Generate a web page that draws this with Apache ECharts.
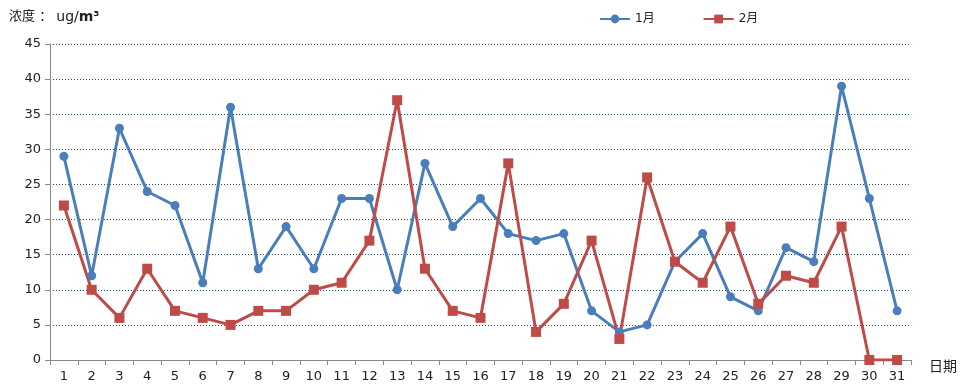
<!DOCTYPE html>
<html><head><meta charset="utf-8">
<script src="https://cdn.jsdelivr.net/npm/echarts@6/dist/echarts.min.js"></script>
<style>html,body{margin:0;padding:0;background:#fff}#c{width:972px;height:389px}</style>
</head><body><div id="c"></div>
<script>
const categories = ['1','2','3','4','5','6','7','8','9','10','11','12','13','14','15','16','17','18','19','20','21','22','23','24','25','26','27','28','29','30','31'];
const jan = [29,12,33,24,22,11,36,13,19,13,23,23,10,28,19,23,18,17,18,7,4,5,14,18,9,7,16,14,39,23,7];
const feb = [22,10,6,13,7,6,5,7,7,10,11,17,37,13,7,6,28,4,8,17,3,26,14,11,19,8,12,11,19,0,0];
const seriesNames = ['1月','2月'];
const font = '"DejaVu Sans","Noto Sans CJK SC",sans-serif';
const chart = echarts.init(document.getElementById('c'));
chart.setOption({
  animation:false,
  textStyle:{fontFamily:font},
  title:{
    text:'{a|浓度 ： }{b|ug/}{c|m³}',
    left:4, top:5,
    textStyle:{fontWeight:'normal',rich:{
      a:{fontSize:13,color:'#222',fontWeight:'normal',fontFamily:font},
      b:{fontSize:14,color:'#222',fontWeight:'normal',fontFamily:font},
      c:{fontSize:14,color:'#222',fontWeight:'bold',fontFamily:font}
    }}
  },
  legend:{
    data:seriesNames, top:8, left:594, itemGap:48, itemWidth:30, itemHeight:11,
    textStyle:{fontSize:12,color:'#222',fontFamily:font}
  },
  grid:{left:50, right:61, top:44, bottom:29, containLabel:false},
  xAxis:{
    type:'category', data:categories, boundaryGap:true,
    name:'日期', nameLocation:'end', nameGap:18,
    nameTextStyle:{fontSize:14,color:'#222',verticalAlign:'top',padding:[0,0,0,0]},
    axisLine:{lineStyle:{color:'#888',width:1}},
    axisTick:{show:true,alignWithLabel:false,length:5,lineStyle:{color:'#888'}},
    axisLabel:{fontSize:13,color:'#222',margin:10,interval:0}
  },
  yAxis:{
    type:'value', min:0, max:45, interval:5,
    axisLine:{show:true,lineStyle:{color:'#888',width:1}},
    axisTick:{show:true,length:5,lineStyle:{color:'#888'}},
    axisLabel:{fontSize:13,color:'#222',margin:9},
    splitLine:{show:true,lineStyle:{color:'#2a4a7a',type:[1,2],width:1}}
  },
  series:[
    {name:seriesNames[0], type:'line', data:jan, symbol:'circle', symbolSize:9,
     itemStyle:{color:'#4a7ebb'}, lineStyle:{color:'#4a7ebb',width:3}},
    {name:seriesNames[1], type:'line', data:feb, symbol:'rect', symbolSize:10,
     itemStyle:{color:'#be4b48'}, lineStyle:{color:'#be4b48',width:3}}
  ]
});
</script></body></html>
